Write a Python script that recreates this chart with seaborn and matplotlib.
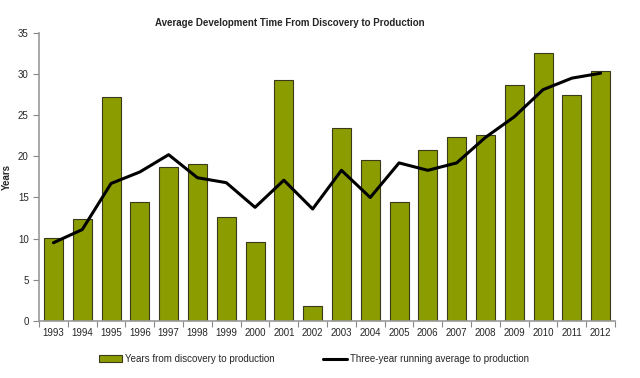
import numpy as np
import pandas as pd
import matplotlib
import seaborn as sns
import matplotlib.pyplot as plt
from matplotlib.ticker import FixedLocator

matplotlib.use('Agg')

years = [str(y) for y in range(1993, 2013)]
dev_years = [10.1, 12.4, 27.2, 14.5, 18.7, 19.1, 12.6, 9.6, 29.3, 1.8,
             23.5, 19.5, 14.5, 20.8, 22.4, 22.6, 28.7, 32.5, 27.4, 30.4]
running_avg = [9.5, 11.1, 16.7, 18.1, 20.2, 17.4, 16.8, 13.8, 17.1, 13.6,
               18.3, 15.0, 19.2, 18.3, 19.2, 22.3, 24.8, 28.1, 29.5, 30.1]

df = pd.DataFrame({'year': years, 'dev': dev_years, 'avg': running_avg})

sns.set_style('white')
plt.rcParams['font.family'] = ['Liberation Sans', 'DejaVu Sans']

fig = plt.figure(figsize=(6.4, 3.78), dpi=100)
ax = fig.add_axes([0.061, 0.151, 0.9, 0.762])

sns.barplot(data=df, x='year', y='dev', color='#8b9c00', saturation=1,
            width=0.66, edgecolor='#3a3a1a', linewidth=0.8, ax=ax,
            label='Years from discovery to production')
sns.lineplot(data=df, x='year', y='avg', color='black', linewidth=2.2,
             ax=ax, label='Three-year running average to production')

ax.set_xlim(-0.5, len(years) - 0.5)
ax.set_ylim(0, 35)
ax.set_yticks(range(0, 36, 5))
ax.xaxis.set_minor_locator(FixedLocator(np.arange(-0.5, len(years), 1)))
ax.tick_params(axis='x', which='major', length=0, labelsize=7, pad=5)
ax.tick_params(axis='x', which='minor', length=4, width=0.8, color='#888888',
               direction='out', bottom=True)
ax.tick_params(axis='y', length=4, width=0.8, color='#888888', labelsize=7,
               direction='out', left=True)

for s in ['top', 'right']:
    ax.spines[s].set_visible(False)
for s in ['left', 'bottom']:
    ax.spines[s].set_color('#999999')
    ax.spines[s].set_linewidth(1.2)

ax.set_xlabel('')
ax.set_ylabel('Years', fontsize=7, fontweight='bold', labelpad=4)
ax.set_title('Average Development Time From Discovery to Production',
             fontsize=7, fontweight='bold', pad=5, x=0.436)

handles, labels = ax.get_legend_handles_labels()
bar_h = [h for h, l in zip(handles, labels) if l.startswith('Years')]
line_h = [h for h, l in zip(handles, labels) if l.startswith('Three')]
ax.legend(bar_h + line_h,
          ['Years from discovery to production',
           'Three-year running average to production'],
          loc='upper center', bbox_to_anchor=(0.477, -0.085), ncol=2,
          frameon=False, fontsize=7, columnspacing=5, handlelength=2.4,
          handletextpad=0.3)

plt.savefig('out.png', dpi=100)
